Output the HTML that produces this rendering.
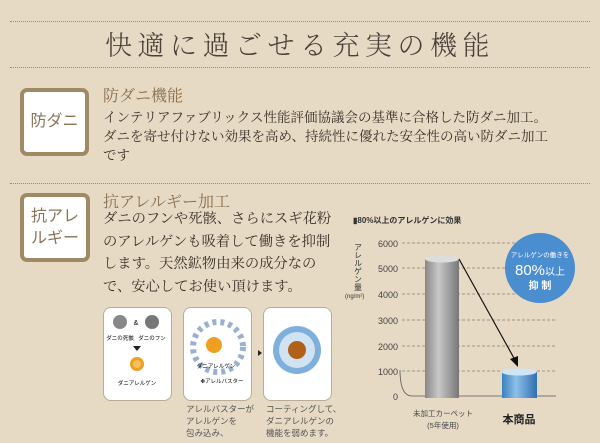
<!DOCTYPE html>
<html><head><meta charset="utf-8"><style>
body{margin:0;width:600px;height:443px;background:#e6dac5;position:relative;overflow:hidden;font-family:"Liberation Serif","Noto Serif CJK SC",serif;color:#3a3028}
.a{position:absolute;white-space:nowrap}
.dot{position:absolute;left:10px;width:580px;border-top:1px dotted #9a8c78}
.box{position:absolute;background:#fff;border:4px solid #a08a66;border-radius:7px;box-sizing:border-box;color:#8a7458;font-size:16px;display:flex;align-items:center;justify-content:center;text-align:center;line-height:22px;font-family:"Liberation Sans","Noto Sans CJK JP",sans-serif}
.h{position:absolute;color:#8a7050;font-size:16px;line-height:20px;white-space:nowrap}
.ib{position:absolute;background:#fff;border:1px solid #b8ab98;border-radius:8px;top:307px;height:92px;width:67px}
.cap{position:absolute;font-family:"Liberation Sans","Noto Sans CJK JP",sans-serif;font-size:8.5px;line-height:12px;color:#555;white-space:nowrap}
</style></head><body>
<div class="dot" style="top:21px"></div>
<div class="a" style="left:0;width:600px;top:27px;text-align:center;font-size:27px;line-height:34px;letter-spacing:5.5px;color:#4a4038;font-family:'Noto Serif CJK SC',serif;font-weight:300">快適に過ごせる充実の機能</div>
<div class="dot" style="top:67px"></div>
<div class="box" style="left:20px;top:88px;width:69px;height:68px">防ダニ</div>
<div class="h" style="left:103px;top:87px">防ダニ機能</div>
<div class="a" style="left:103px;top:108px;font-size:13.5px;line-height:19px">インテリアファブリックス性能評価協議会の基準に合格した防ダニ加工。<br>ダニを寄せ付けない効果を高め、持続性に優れた安全性の高い防ダニ加工<br>です</div>
<div class="dot" style="top:183px"></div>
<div class="box" style="left:20px;top:193px;width:70px;height:69px">抗アレ<br>ルギー</div>
<div class="h" style="left:103px;top:193px">抗アレルギー加工</div>
<div class="a" style="left:103px;top:208px;font-size:14.3px;line-height:22.7px">ダニのフンや死骸、さらにスギ花粉<br>のアレルゲンも吸着して働きを抑制<br>します。天然鉱物由来の成分なの<br>で、安心してお使い頂けます。</div>
<div class="ib" style="left:103px"></div>
<div class="ib" style="left:183px"></div>
<div class="ib" style="left:263px"></div>
<svg class="a" style="left:0;top:0" width="600" height="443">
<circle cx="120" cy="322" r="7" fill="#888"/><circle cx="152" cy="322" r="7" fill="#777"/>
<text x="136" y="325" font-size="7" text-anchor="middle" font-family="Liberation Sans">&amp;</text>
<text x="120" y="340" font-size="5.5" text-anchor="middle" font-family="Noto Sans CJK JP">ダニの死骸</text>
<text x="152" y="340" font-size="5.5" text-anchor="middle" font-family="Noto Sans CJK JP">ダニのフン</text>
<polygon points="133,346 141,346 137,351" fill="#222"/>
<circle cx="137" cy="364" r="7" fill="#f0a020"/><circle cx="137" cy="364" r="4" fill="#f6c060"/>
<text x="137" y="385" font-size="5.5" text-anchor="middle" font-family="Noto Sans CJK JP">ダニアレルゲン</text>
<circle cx="218" cy="347" r="25" fill="none" stroke="#9ab0d0" stroke-width="6" stroke-dasharray="4 4"/>
<circle cx="214" cy="345" r="8" fill="#f0a020"/>
<text x="216" y="368" font-size="5.5" text-anchor="middle" font-family="Noto Sans CJK JP">ダニアレルゲン</text>
<text x="222" y="383" font-size="5.5" text-anchor="middle" font-family="Noto Sans CJK JP">✤アレルバスター</text>
<polygon points="258,350 258,356 262,353" fill="#222"/>
<circle cx="297" cy="350" r="24" fill="#7fb0dc"/><circle cx="297" cy="350" r="18" fill="#cfe3f3"/><circle cx="297" cy="350" r="9" fill="#b06018"/>
<g font-family="Liberation Sans,Noto Sans CJK JP,sans-serif" fill="#333">
<text x="353" y="223" font-size="8" font-weight="bold">▮80%以上のアレルゲンに効果</text>
<g font-size="9" text-anchor="end" fill="#444">
<text x="398" y="247">6000</text><text x="398" y="272">5000</text><text x="398" y="298">4000</text><text x="398" y="324">3000</text><text x="398" y="350">2000</text><text x="398" y="375">1000</text><text x="398" y="400">0</text></g>
<text x="358" y="243" font-size="8" writing-mode="tb">アレルゲン量</text>
<text x="345" y="298" font-size="6">(ng/m²)</text>
</g>
<g stroke="#8a8070" stroke-dasharray="3 2" stroke-width="0.7">
<line x1="402" y1="243" x2="556" y2="243"/><line x1="402" y1="268" x2="556" y2="268"/><line x1="402" y1="294" x2="556" y2="294"/><line x1="402" y1="320" x2="556" y2="320"/><line x1="402" y1="346" x2="556" y2="346"/><line x1="402" y1="371" x2="556" y2="371"/></g>
<path d="M400 370 Q400 396 412 396 L556 396" fill="none" stroke="#555" stroke-width="0.8"/>
<defs><linearGradient id="g1"><stop offset="0" stop-color="#888"/><stop offset=".4" stop-color="#c8c8c8"/><stop offset="1" stop-color="#777"/></linearGradient>
<linearGradient id="g2"><stop offset="0" stop-color="#3a80c0"/><stop offset=".4" stop-color="#8cc0e8"/><stop offset="1" stop-color="#3070b0"/></linearGradient></defs>
<rect x="425" y="259" width="34" height="139" fill="url(#g1)"/><ellipse cx="442" cy="259" rx="17" ry="3.5" fill="#ddd"/>
<rect x="502" y="372" width="35" height="26" fill="url(#g2)"/><ellipse cx="519" cy="372" rx="17.5" ry="3.5" fill="#cfe4f4"/>
<line x1="459" y1="259" x2="515" y2="360" stroke="#111" stroke-width="1.2"/><polygon points="518,367 510,359 518,356" fill="#111"/>
<circle cx="540" cy="268" r="35" fill="#4a8ecf"/>
<g fill="#fff" text-anchor="middle" font-family="Liberation Sans,Noto Sans CJK JP,sans-serif"><text x="540" y="257" font-size="6.5">アレルゲンの働きを</text><text x="540" y="275" font-size="15">80%<tspan font-size="10">以上</tspan></text><text x="540" y="289" font-size="10" font-weight="bold">抑 制</text></g>
<g font-family="Liberation Sans,Noto Sans CJK JP,sans-serif" text-anchor="middle"><text x="443" y="416" font-size="7.5" fill="#444">未加工カーペット</text><text x="443" y="428" font-size="7.5" fill="#444">(5年使用)</text><text x="519" y="423" font-size="11" font-weight="bold" fill="#222">本商品</text></g>
</svg>
<div class="cap" style="left:186px;top:403px">アレルバスターが<br>アレルゲンを<br>包み込み、</div>
<div class="cap" style="left:266px;top:403px">コーティングして、<br>ダニアレルゲンの<br>機能を弱めます。</div>
</body></html>
